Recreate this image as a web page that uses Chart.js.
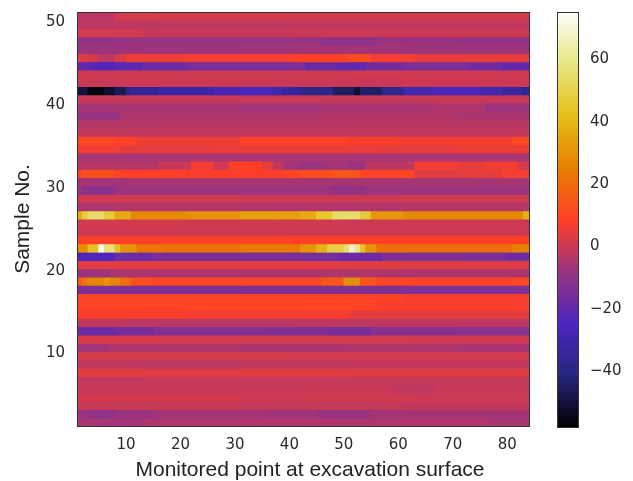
<!DOCTYPE html>
<html><head><meta charset="utf-8">
<style>
html,body{margin:0;padding:0;background:#fff;width:633px;height:481px;overflow:hidden}
canvas{position:absolute;left:0;top:0;filter:blur(0.6px)}
#wrapA,#wrapB{position:absolute;left:0;top:0;width:633px;height:481px}
</style>
<script src="https://cdn.jsdelivr.net/npm/chart.js@4/dist/chart.umd.min.js"></script>
</head><body>
<div id="wrapA"><canvas id="heat"></canvas></div>
<div id="wrapB"><canvas id="bar"></canvas></div>
<script>
const xTicks=[10,20,30,40,50,60,70,80];
const yTicks=[10,20,30,40,50];
const cbTicks=[-40,-20,0,20,40,60];
const xCaption='Monitored point at excavation surface';
const yCaption='Sample No.';
const valueMin=-58.5, valueMax=74.5;
const cmrStops=[[0,0,0],[38,38,128],[77,38,191],[153,51,128],[255,64,38],[230,128,0],[230,191,26],[230,230,128],[255,255,255]];
// each sample: pairs of [last monitored point of the run, value]
const s1=[4,-6,12,-7,30,-5,45,-4.5,60,-5,75,-4.5,83,-6];
const s2=[2,-8,7,-11,14,-8.5,35,-7,44,-7.5,54,-9,70,-7,83,-7];
const s3=[30,-1,60,-1.5,83,-2];
const s4=[30,0.5,62,0,83,-0.5];
const s5=[40,-1.5,58,-1,66,-2.5,83,-1.5];
const s6=[12,-2,83,-1.5];
const s7=[50,3,83,2.5];
const s8=[12,-2.5,30,-3,50,-2.5,83,-2];
const s9=[40,1,83,0.5];
const s10=[6,-7,30,-5,50,-5.5,70,-5,83,-6];
const s11=[15,1.5,60,1,83,0.5];
const s12=[7,-19,14,-16,35,-13.5,46,-14,54,-16,70,-12.5,83,-12];
const s13=[10,-2,40,-3,83,-2.5];
const s14=[20,7,50,6,83,4];
const s15=[30,9,55,9,83,6.5];
const s16=[30,9,60,8.5,83,7];
const s17=[20,-14.5,83,-14];
const s18=[1,16,2,22,5,26,6,30,8,26,10,20,14,12,30,9,45,9,49,14,52,28,55,14,62,9,80,8,83,10];
const s19=[6,-8,30,-5.5,60,-5,83,-5.5];
const s20=[50,3,83,2.5];
const s21=[7,-25,14,-19,40,-15,48,-16,56,-18.5,72,-14,79,-15,83,-18];
const s22=[2,28,4,42,5,72,7,56,8,42,11,30,16,22,30,21,41,23,44,30,46,38,49,48,50,55,51,67,52,60,53,44,55,30,60,20,80,20,83,25];
const s23=[20,7.5,40,8.5,83,8];
const s24=[83,0];
const s25=[20,0.5,50,0,83,-0.5];
const s26=[1,36,2,46,5,54,7,46,10,36,20,27,30,29,36,33,41,32,44,36,47,45,52,54,54,46,60,31,80,27,82,27,83,38];
const s27=[7,-5,60,-4.5,83,-4];
const s28=[30,0,60,-0.5,83,0];
const s29=[1,-8,7,-12,47,-8,53,-10,83,-8];
const s30=[10,-7,83,-6.5];
const s31=[1,8,7,12,20,8,38,7,41,9,47,11,52,14,62,9,72,3,78,4,83,6];
const s32=[1,-4,15,-4,21,-1,25,6,28,0,34,8,36,4,38,-2,41,-7,46,-9,50,-7,53,-9,62,-3,70,6,75,4,81,6,83,1];
const s33=[83,-6];
const s34=[8,6,25,4,55,4.5,70,4,83,5];
const s35=[7,10,11,8,30,5,50,8,60,7,80,6,83,10];
const s36=[83,-2];
const s37=[15,-4,83,-3.5];
const s38=[8,-9,45,-5,70,-4.5,83,-5.5];
const s39=[10,-6.5,30,-6,45,-7,66,-6,75,-5,83,-8];
const s40=[83,-1];
const s41=[2,-50,5,-57,7,-52,9,-47,10,-40,15,-36,25,-32,30,-28,36,-26,38,-31,41,-34,47,-39,51,-46,52,-52,56,-45,60,-38,65,-30,74,-26,78,-30,82,-33,83,-38];
const s42=[8,-1,30,-0.5,60,-1,83,-0.5];
const s43=[50,0,83,0.5];
const s44=[3,-21,7,-24,12,-22,20,-18,38,-16,42,-15,48,-19,53,-21,60,-17,72,-15,78,-17,83,-21];
const s45=[2,3,4,1,7,-3,9,1,20,5,40,6,50,8,54,11,62,6,83,4];
const s46=[12,-8,30,-7.5,60,-7,83,-7.5];
const s47=[7,-10,45,-9,55,-11,70,-8.5,83,-9.5];
const s48=[12,0.5,40,-1,83,-0.5];
const s49=[15,-3,83,-2.5];
const s50=[7,-3,15,1,83,0.5];
const samples=[s1,s2,s3,s4,s5,s6,s7,s8,s9,s10,s11,s12,s13,s14,s15,s16,s17,s18,s19,s20,s21,s22,s23,s24,s25,s26,s27,s28,s29,s30,s31,s32,s33,s34,s35,s36,s37,s38,s39,s40,s41,s42,s43,s44,s45,s46,s47,s48,s49,s50];

function cmr(v){
  const t=Math.min(1,Math.max(0,(v-valueMin)/(valueMax-valueMin)))*(cmrStops.length-1);
  const i=Math.min(cmrStops.length-2,Math.floor(t)),f=t-i;
  const c=cmrStops[i].map((a,k)=>Math.round(a+(cmrStops[i+1][k]-a)*f));
  return `rgb(${c[0]},${c[1]},${c[2]})`;
}
const cells=[];
samples.forEach((runs,idx)=>{
  let from=1;
  for(let j=0;j<runs.length;j+=2){
    cells.push({x:[from,runs[j]+1],y:idx+1.5,v:runs[j+1]});
    from=runs[j]+1;
  }
});
const tickFont={family:'"DejaVu Sans"',size:15};
const ink='#2a2a2a';
const frame={id:'frame',afterDatasetsDraw(c){
  const a=c.chartArea,x=c.ctx;x.save();x.strokeStyle='#333';x.lineWidth=1;
  x.strokeRect(Math.round(a.left)+.5,Math.round(a.top)+.5,Math.round(a.right-a.left),Math.round(a.bottom-a.top));x.restore();
}};
const caption={id:'caption',afterDraw(c){
  const x=c.ctx;x.save();x.font='21px "Liberation Sans"';x.fillStyle='#222';x.textAlign='center';x.textBaseline='middle';
  x.fillText(xCaption,310,470);x.restore();
}};
const noPad=s=>{s.paddingTop=0;s.paddingBottom=0;s.paddingLeft=0;s.paddingRight=0;};
new Chart(document.getElementById('heat'),{
  type:'bar',
  data:{datasets:[{data:cells,backgroundColor:c=>cmr(c.raw?c.raw.v:0),barPercentage:1.02,categoryPercentage:1,inflateAmount:0.4,borderWidth:0}]},
  plugins:[frame,caption],
  options:{
    indexAxis:'y',responsive:true,maintainAspectRatio:false,animation:false,
    layout:{padding:{top:12,right:104,left:0,bottom:0}},
    plugins:{legend:{display:false},tooltip:{enabled:false}},
    scales:{
      x:{type:'linear',min:1,max:84,position:'bottom',
        afterBuildTicks:s=>{s.ticks=xTicks.map(v=>({value:v}))},
        afterFit:s=>{s.height=55;noPad(s)},
        grid:{display:false,drawTicks:true,tickLength:5,tickColor:'#333'},
        border:{display:false},
        ticks:{font:tickFont,color:ink,padding:5,maxRotation:0,autoSkip:false}},
      y:{type:'linear',min:1,max:51,offset:false,
        afterBuildTicks:s=>{s.ticks=yTicks.map(v=>({value:v}))},
        afterFit:s=>{s.width=77;noPad(s)},
        grid:{display:false,offset:false,tickLength:5,tickColor:'#333'},
        border:{display:false},
        ticks:{font:tickFont,color:ink,padding:7,labelOffset:2,autoSkip:false},
        title:{display:true,text:yCaption,font:{family:'"Liberation Sans"',size:21},color:'#222',padding:{top:11,bottom:0}}}
    }
  }
});
new Chart(document.getElementById('bar'),{
  type:'bar',
  data:{labels:['colour'],datasets:[{data:[[valueMin,valueMax]],barPercentage:1,categoryPercentage:1,borderWidth:0,
    backgroundColor:c=>{
      const a=c.chart.chartArea; if(!a) return '#888';
      const g=c.chart.ctx.createLinearGradient(0,a.bottom,0,a.top);
      cmrStops.forEach((s,i)=>g.addColorStop(i/(cmrStops.length-1),`rgb(${s[0]},${s[1]},${s[2]})`));
      return g;
    }}]},
  plugins:[frame],
  options:{
    responsive:true,maintainAspectRatio:false,animation:false,
    layout:{padding:{top:12,left:557,right:0,bottom:54}},
    plugins:{legend:{display:false},tooltip:{enabled:false}},
    scales:{
      x:{display:false},
      y:{type:'linear',position:'right',min:valueMin,max:valueMax,
        afterBuildTicks:s=>{s.ticks=cbTicks.map(v=>({value:v}))},
        afterFit:s=>{s.width=55;noPad(s)},
        grid:{display:false,tickLength:5,tickColor:'#333'},
        border:{display:false},
        ticks:{font:tickFont,color:ink,padding:7,labelOffset:2,autoSkip:false,callback:v=>String(v).replace('-','\u2212')}}
    }
  }
});
</script>
</body></html>
